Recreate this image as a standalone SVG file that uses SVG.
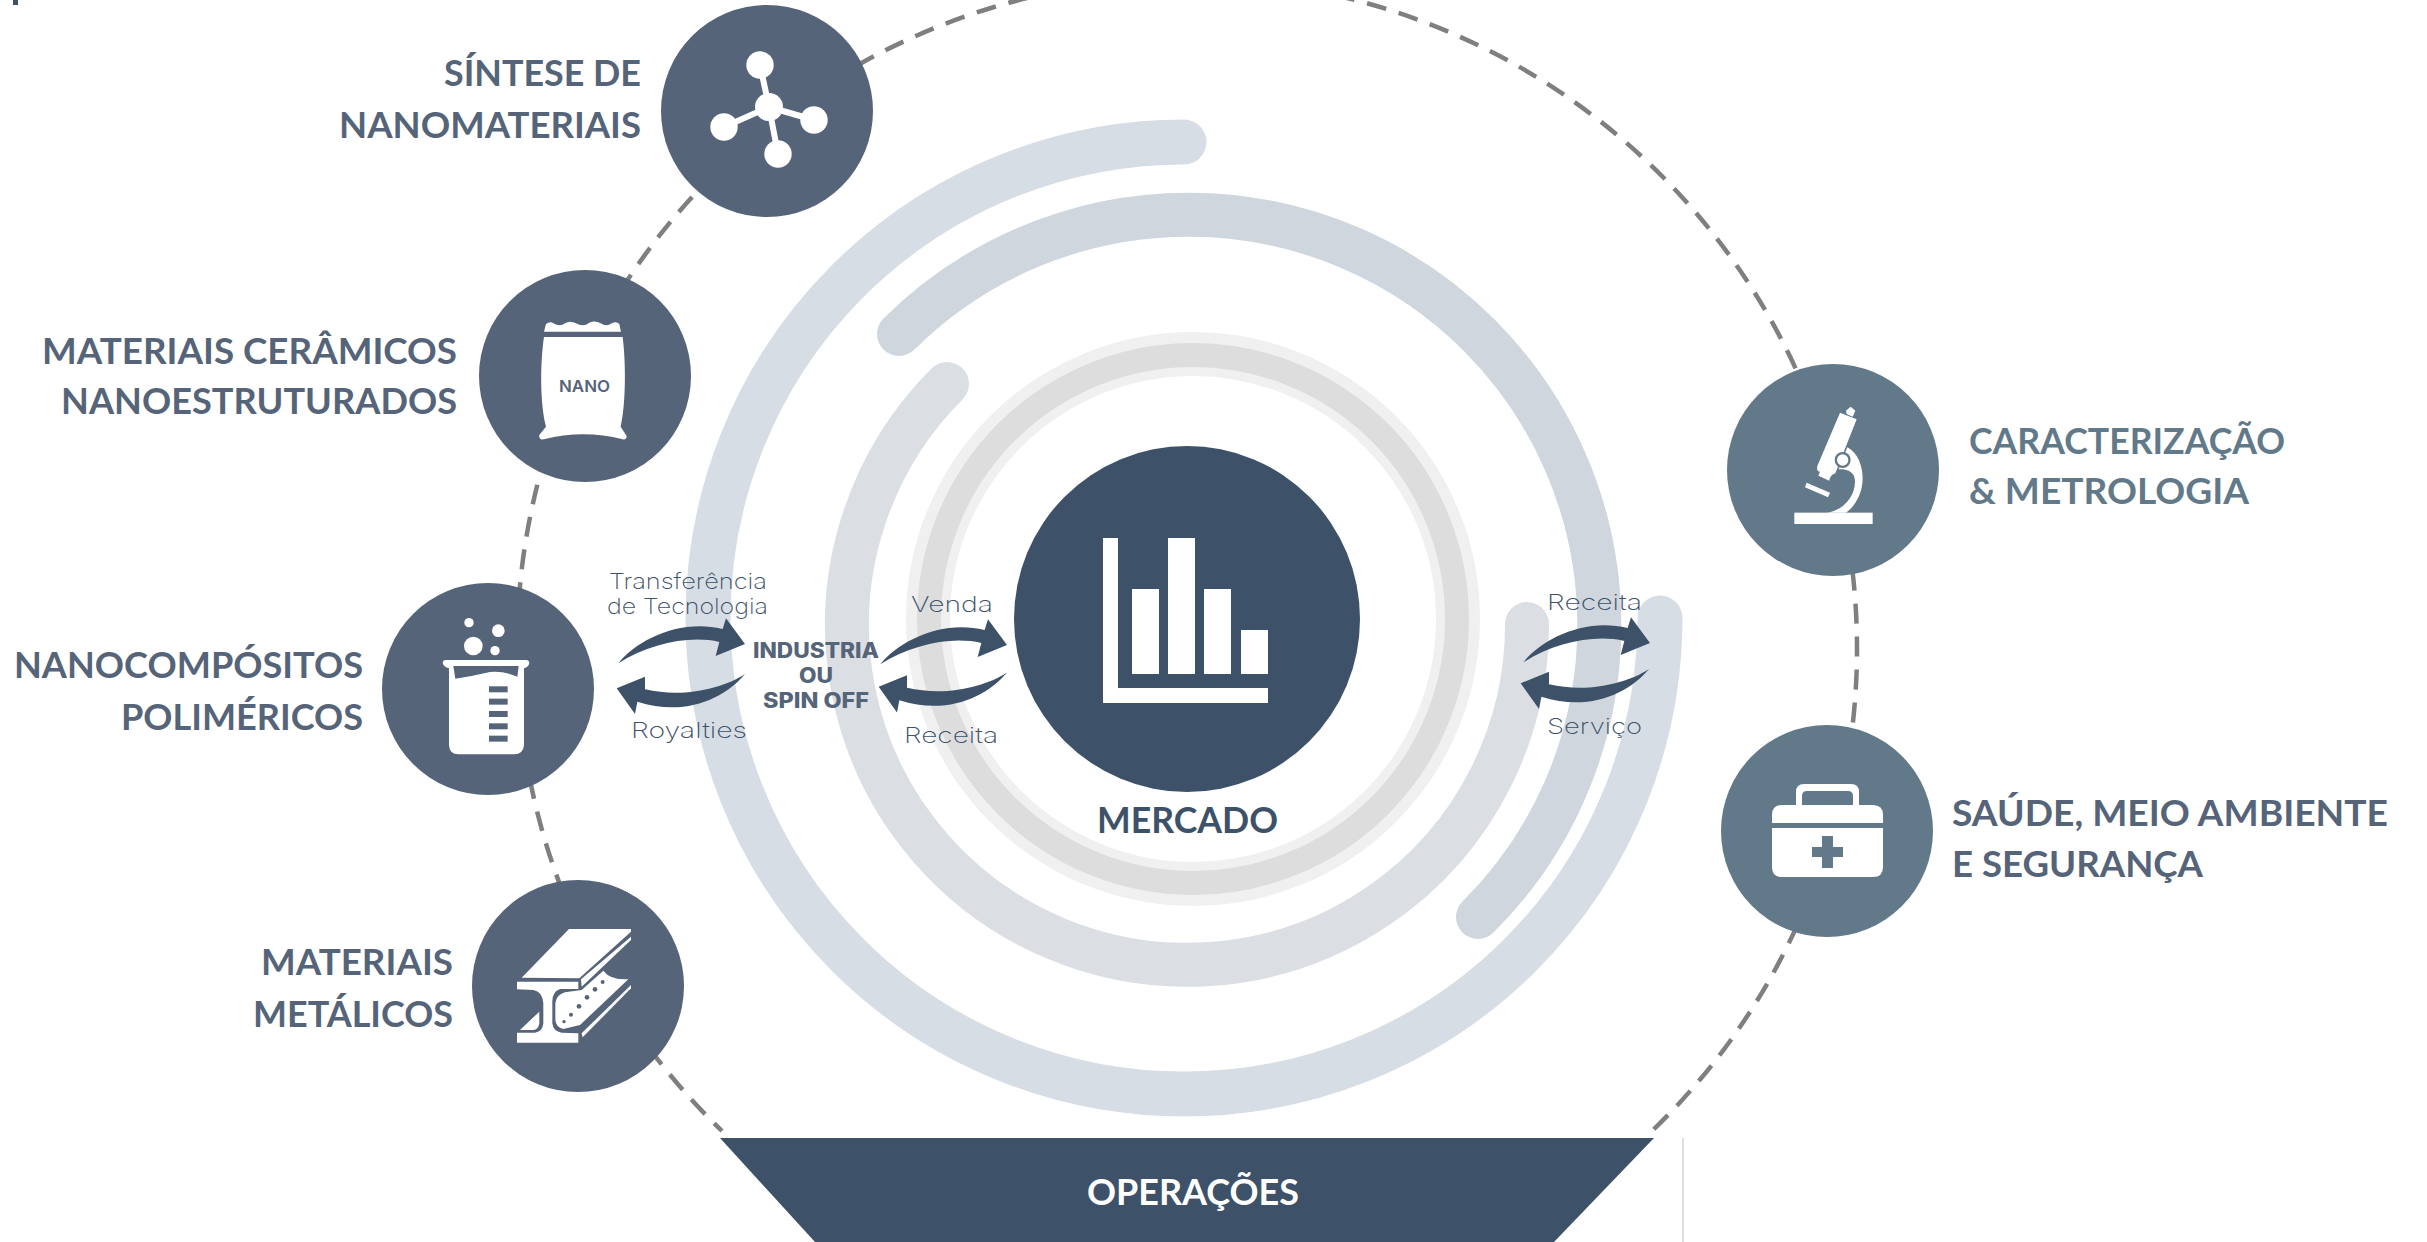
<svg xmlns="http://www.w3.org/2000/svg" xmlns:xlink="http://www.w3.org/1999/xlink" width="2427" height="1242" viewBox="0 0 2427 1242">
<style>
.lbl{font-family:"Lato","Liberation Sans",sans-serif;font-weight:700;font-size:37px;fill:#556479}
.teal{fill:#62798a}
.lt{font-family:"Inter","Noto Sans",sans-serif;font-weight:200;font-size:22px;fill:#3d5269}
.bd{font-family:"Inter","Noto Sans",sans-serif;font-weight:800;font-size:21px;fill:#556479}
.ring{fill:none;stroke-linecap:round}
.w{fill:#fff}
.n1{fill:#556479}
.n2{fill:#62798a}
.dk{fill:#3d5269}
</style>
<defs>
<path id="arrowUp" d="M55,340 C110,270 240,205 368,237 L378,205 L435,282 L347,318 L358,276 C270,255 150,280 55,340 Z"/>
<path id="arrowDown" d="M435,372 C370,415 250,445 135,418 L135,380 L50,415 L105,492 L112,455 C250,500 370,450 435,372 Z"/>
</defs>
<rect width="2427" height="1242" fill="#fff"/>
<rect x="13" y="0" width="5" height="5" fill="#3d5269"/>

<g id="rings">
<circle cx="1193" cy="619" r="265" fill="none" stroke="#f0f0f0" stroke-width="44"/>
<circle cx="1193" cy="619" r="264" fill="none" stroke="#dddddd" stroke-width="24"/>
<path class="ring" stroke="#d7dde4" stroke-width="45" d="M1660,618 A476,476 0 1 1 1184,142"/>
<path class="ring" stroke="#cfd6dd" stroke-width="44" d="M899,334 A408,408 0 1 1 1478,917"/>
<path class="ring" stroke="#dbdfe4" stroke-width="44" d="M947,384 A340,340 0 1 0 1527,624"/>
</g>

<g id="connectors">
<path d="M722,1131 A670,670 0 1 1 1652,1131" fill="none" stroke="#7f7f7f" stroke-width="4.5" stroke-dasharray="20 13" stroke-dashoffset="9"/>
<g class="dk">
<use xlink:href="#arrowUp" href="#arrowUp" transform="translate(600,550) scale(.3333)"/>
<use xlink:href="#arrowDown" href="#arrowDown" transform="translate(600,550) scale(.3333)"/>
<use xlink:href="#arrowUp" href="#arrowUp" transform="translate(862,551) scale(.3333)"/>
<use xlink:href="#arrowDown" href="#arrowDown" transform="translate(862,548.500) scale(.3333)"/>
<use xlink:href="#arrowUp" href="#arrowUp" transform="translate(1505,549) scale(.3333)"/>
<use xlink:href="#arrowDown" href="#arrowDown" transform="translate(1504,545) scale(.3333)"/>
</g>
</g>

<g id="flow-labels">
<text class="lt" x="609" y="589" textLength="158" lengthAdjust="spacingAndGlyphs">Transferência</text>
<text class="lt" x="607" y="614" textLength="161" lengthAdjust="spacingAndGlyphs">de Tecnologia</text>
<text class="lt" x="631" y="738" textLength="116" lengthAdjust="spacingAndGlyphs">Royalties</text>
<text class="lt" x="911" y="612" textLength="82" lengthAdjust="spacingAndGlyphs">Venda</text>
<text class="lt" x="904" y="743" textLength="94" lengthAdjust="spacingAndGlyphs">Receita</text>
<text class="lt" x="1547" y="610" textLength="95" lengthAdjust="spacingAndGlyphs">Receita</text>
<text class="lt" x="1547" y="734" textLength="95" lengthAdjust="spacingAndGlyphs">Serviço</text>
</g>

<g id="industria">
<text class="bd" x="753" y="658" textLength="126" lengthAdjust="spacingAndGlyphs">INDUSTRIA</text>
<text class="bd" x="799" y="683" textLength="34" lengthAdjust="spacingAndGlyphs">OU</text>
<text class="bd" x="763" y="708" textLength="106" lengthAdjust="spacingAndGlyphs">SPIN OFF</text>
</g>

<g id="mercado">
<circle class="dk" cx="1187" cy="619" r="173"/>
<path class="w" d="M1103,538 H1118 V688 H1268 V703 H1103 Z"/>
<rect class="w" x="1132" y="589" width="27" height="85"/>
<rect class="w" x="1168" y="538" width="27" height="136"/>
<rect class="w" x="1204" y="589" width="27" height="85"/>
<rect class="w" x="1241" y="630" width="27" height="44"/>
<text class="lbl" style="fill:#3d5269" x="1097" y="833" textLength="181" lengthAdjust="spacingAndGlyphs">MERCADO</text>
</g>

<g id="sintese">
<circle class="n1" cx="767" cy="111" r="106"/>
<path d="M760,65 L769,107 M724,127 L769,107 M814,120 L769,107 M778,154 L769,107" stroke="#fff" stroke-width="6" fill="none"/>
<circle class="w" cx="769" cy="107" r="14"/>
<circle class="w" cx="760" cy="65" r="13.700"/>
<circle class="w" cx="724" cy="127" r="13.700"/>
<circle class="w" cx="814" cy="120" r="13.700"/>
<circle class="w" cx="778" cy="154" r="13.700"/>
<text class="lbl" x="444" y="86" textLength="197" lengthAdjust="spacingAndGlyphs">SÍNTESE DE</text>
<text class="lbl" x="339" y="138" textLength="302" lengthAdjust="spacingAndGlyphs">NANOMATERIAIS</text>
</g>

<g id="ceramicos">
<circle class="n1" cx="585" cy="376" r="106"/>
<g transform="translate(470,270) scale(.3333)">
<path class="w" d="M222,185 L228,162 Q240,152 250,160 Q270,172 285,160 Q300,150 318,160 Q340,172 358,158 Q375,150 392,160 Q410,172 425,160 Q440,152 448,162 L453,185 Z"/>
<path class="w" d="M222,201 L458,201 C468,280 468,400 452,470 L470,498 Q470,510 458,508 C380,488 300,488 222,508 Q205,510 208,495 L228,470 C210,400 210,280 222,201 Z"/>
</g>
<text x="559" y="392" textLength="51" lengthAdjust="spacingAndGlyphs" style="font-family:'Inter','Noto Sans',sans-serif;font-weight:600;font-size:16px;fill:#556479">NANO</text>
<text class="lbl" x="42" y="364" textLength="415" lengthAdjust="spacingAndGlyphs">MATERIAIS CERÂMICOS</text>
<text class="lbl" x="61" y="414" textLength="396" lengthAdjust="spacingAndGlyphs">NANOESTRUTURADOS</text>
</g>

<g id="nanocompositos">
<circle class="n1" cx="488" cy="689" r="106"/>
<g transform="translate(380,580) scale(.3333)">
<circle class="w" cx="267" cy="128" r="14"/>
<circle class="w" cx="355" cy="152" r="19"/>
<circle class="w" cx="280" cy="198" r="28"/>
<circle class="w" cx="345" cy="212" r="14"/>
<path class="w" d="M188,250 Q188,240 198,240 L438,240 Q448,240 448,250 Q445,262 432,265 L432,495 Q430,523 402,523 L235,523 Q208,523 207,495 L207,265 Q192,262 188,250 Z"/>
<path class="n1" d="M220,258 L416,258 L412,290 Q370,272 330,276 Q280,288 226,296 Z"/>
<g class="n1"><rect x="327" y="319" width="56" height="18"/><rect x="327" y="356" width="56" height="18"/><rect x="327" y="393" width="56" height="18"/><rect x="327" y="430" width="56" height="18"/><rect x="327" y="467" width="56" height="18"/></g>
</g>
<text class="lbl" x="14" y="678" textLength="349" lengthAdjust="spacingAndGlyphs">NANOCOMPÓSITOS</text>
<text class="lbl" x="121" y="730" textLength="242" lengthAdjust="spacingAndGlyphs">POLIMÉRICOS</text>
</g>

<g id="metalicos">
<circle class="n1" cx="578" cy="986" r="106"/>
<g transform="translate(470,880) scale(.3333)">
<path class="w" d="M297,147 L483,147 L483,155 L328,295 L155,293 Z"/>
<path class="w" d="M483,170 L483,180 L335,320 L333,298 Z"/>
<path class="w" d="M141,305 L325,305 L325,327 L270,327 Q245,335 247,370 L247,430 Q250,455 275,458 L325,460 L325,488 L141,488 L141,458 L195,458 Q218,455 220,430 L220,370 Q218,335 190,330 L141,328 Z"/>
<path class="w" d="M150,450 L208,395 L208,430 Q205,450 190,450 Z"/>
<path class="w" d="M400,272 Q420,300 475,298 L330,435 L280,447 Q258,442 256,420 L256,370 Q258,345 285,337 L335,330 Z"/>
<path class="w" d="M483,315 L483,325 L338,472 L335,460 Z"/>
<g class="n1"><circle cx="282" cy="425" r="5"/><circle cx="303" cy="404" r="6"/><circle cx="327" cy="379" r="7"/><circle cx="351" cy="352" r="7"/><circle cx="375" cy="328" r="7"/><circle cx="398" cy="306" r="6"/></g>
</g>
<text class="lbl" x="261" y="975" textLength="192" lengthAdjust="spacingAndGlyphs">MATERIAIS</text>
<text class="lbl" x="253" y="1027" textLength="200" lengthAdjust="spacingAndGlyphs">METÁLICOS</text>
</g>

<g id="caracterizacao">
<circle class="n2" cx="1833" cy="470" r="106"/>
<g transform="translate(1740,360) scale(.3333)">
<path class="w" d="M318,152 L332,140 L346,152 L338,170 L320,162 Z"/>
<path class="w" d="M300,158 L350,178 L286,340 Q270,345 268,362 L235,347 L240,335 Q228,335 232,318 Z"/>
<path class="w" d="M322,262 C355,280 368,320 368,355 C368,400 345,440 318,458 L262,458 C310,450 345,410 345,365 C345,345 335,332 310,328 L296,328 Z"/>
<circle class="n2" cx="308" cy="300" r="24"/>
<circle class="w" cx="308" cy="300" r="17"/>
<path class="w" d="M200,368 L270,398 L264,412 L195,382 Z"/>
<rect class="w" x="163" y="458" width="235" height="34"/>
</g>
<text class="lbl teal" x="1969" y="454" textLength="316" lengthAdjust="spacingAndGlyphs">CARACTERIZAÇÃO</text>
<text class="lbl teal" x="1969" y="504" textLength="280" lengthAdjust="spacingAndGlyphs">&amp; METROLOGIA</text>
</g>

<g id="saude">
<circle class="n2" cx="1827" cy="831" r="106"/>
<path class="w" fill-rule="evenodd" d="M1796,805 V792 Q1796,784 1804,784 H1851 Q1859,784 1859,792 V805 H1853 V796 Q1853,791 1848,791 H1807 Q1802,791 1802,796 V805 Z"/>
<path class="w" d="M1772,823 V815 Q1772,805 1782,805 H1873 Q1883,805 1883,815 V823 Z"/>
<path class="w" d="M1772,828 H1883 V867 Q1883,877 1873,877 H1782 Q1772,877 1772,867 Z"/>
<path class="n2" d="M1822,836 H1833 V847 H1843 V857 H1833 V868 H1822 V857 H1812 V847 H1822 Z"/>
<text class="lbl" x="1952" y="826" textLength="436" lengthAdjust="spacingAndGlyphs">SAÚDE, MEIO AMBIENTE</text>
<text class="lbl" x="1952" y="877" textLength="251" lengthAdjust="spacingAndGlyphs">E SEGURANÇA</text>
</g>

<g id="operacoes">
<path class="dk" d="M720,1138 H1654 L1554,1242 H815 Z"/>
<text class="lbl" style="fill:#fff" x="1087" y="1205" textLength="212" lengthAdjust="spacingAndGlyphs">OPERAÇÕES</text>
<path d="M1683,1138 V1242" stroke="#bfbfbf" stroke-width="1" fill="none"/>
</g>
</svg>
